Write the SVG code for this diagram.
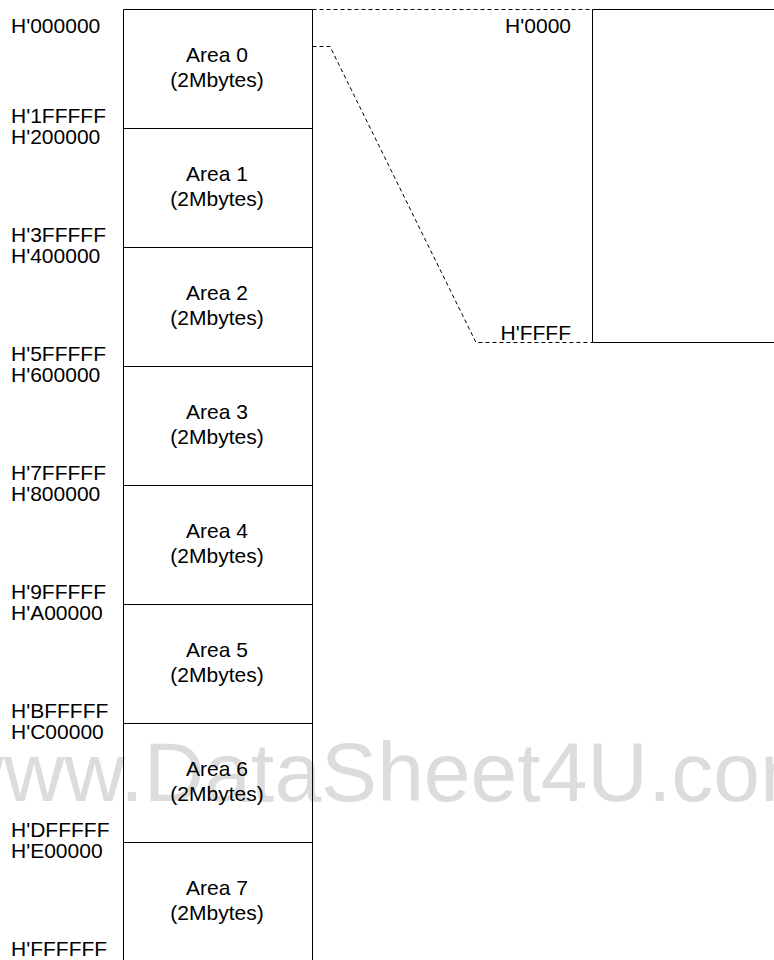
<svg xmlns="http://www.w3.org/2000/svg" width="774" height="960" viewBox="0 0 774 960">
<style>
.t{font-family:"Liberation Sans",Arial,sans-serif;font-size:21px;fill:#000}
.c{text-anchor:middle}
.r{text-anchor:end}
.box{fill:none;stroke:#000;stroke-width:1}
.dash{fill:none;stroke:#000;stroke-width:1;stroke-dasharray:4 3}
.wm{font-family:"Liberation Sans",Arial,sans-serif;font-size:84px;fill:#dcdcdc}
</style>
<rect width="774" height="960" fill="#fff"/>
<text class="wm" x="-57" y="801">www.DataSheet4U.com</text>
<g id="connectors">
<path class="dash" d="M312.5 9.5H592.5"/>
<path class="dash" d="M312.5 46.5H330L476 342.5H592.5"/>
</g>
<g id="memory">
<path class="box" d="M123.5 960V9.5H312.5V960"/>
<path class="box" d="M123.5 128.5H312.5M123.5 247.5H312.5M123.5 366.5H312.5M123.5 485.5H312.5M123.5 604.5H312.5M123.5 723.5H312.5M123.5 842.5H312.5"/>
</g>
<g id="area0"><text class="t c" x="217" y="62">Area 0</text><text class="t c" x="217" y="87">(2Mbytes)</text></g>
<g id="area1"><text class="t c" x="217" y="181">Area 1</text><text class="t c" x="217" y="206">(2Mbytes)</text></g>
<g id="area2"><text class="t c" x="217" y="300">Area 2</text><text class="t c" x="217" y="325">(2Mbytes)</text></g>
<g id="area3"><text class="t c" x="217" y="419">Area 3</text><text class="t c" x="217" y="444">(2Mbytes)</text></g>
<g id="area4"><text class="t c" x="217" y="538">Area 4</text><text class="t c" x="217" y="563">(2Mbytes)</text></g>
<g id="area5"><text class="t c" x="217" y="657">Area 5</text><text class="t c" x="217" y="682">(2Mbytes)</text></g>
<g id="area6"><text class="t c" x="217" y="776">Area 6</text><text class="t c" x="217" y="801">(2Mbytes)</text></g>
<g id="area7"><text class="t c" x="217" y="895">Area 7</text><text class="t c" x="217" y="920">(2Mbytes)</text></g>
<g id="addresses">
<text class="t" x="11" y="33">H'000000</text>
<text class="t" x="11" y="123">H'1FFFFF</text>
<text class="t" x="11" y="144">H'200000</text>
<text class="t" x="11" y="242">H'3FFFFF</text>
<text class="t" x="11" y="263">H'400000</text>
<text class="t" x="11" y="361">H'5FFFFF</text>
<text class="t" x="11" y="382">H'600000</text>
<text class="t" x="11" y="480">H'7FFFFF</text>
<text class="t" x="11" y="501">H'800000</text>
<text class="t" x="11" y="599">H'9FFFFF</text>
<text class="t" x="11" y="620">H'A00000</text>
<text class="t" x="11" y="718">H'BFFFFF</text>
<text class="t" x="11" y="739">H'C00000</text>
<text class="t" x="11" y="837">H'DFFFFF</text>
<text class="t" x="11" y="858">H'E00000</text>
<text class="t" x="11" y="956">H'FFFFFF</text>
</g>
<g id="area0-detail">
<path class="box" d="M592.5 9.5H774M592.5 9.5V342.5H774"/>
<text class="t r" x="571" y="33">H'0000</text>
<text class="t r" x="571" y="340">H'FFFF</text>
</g>
</svg>
